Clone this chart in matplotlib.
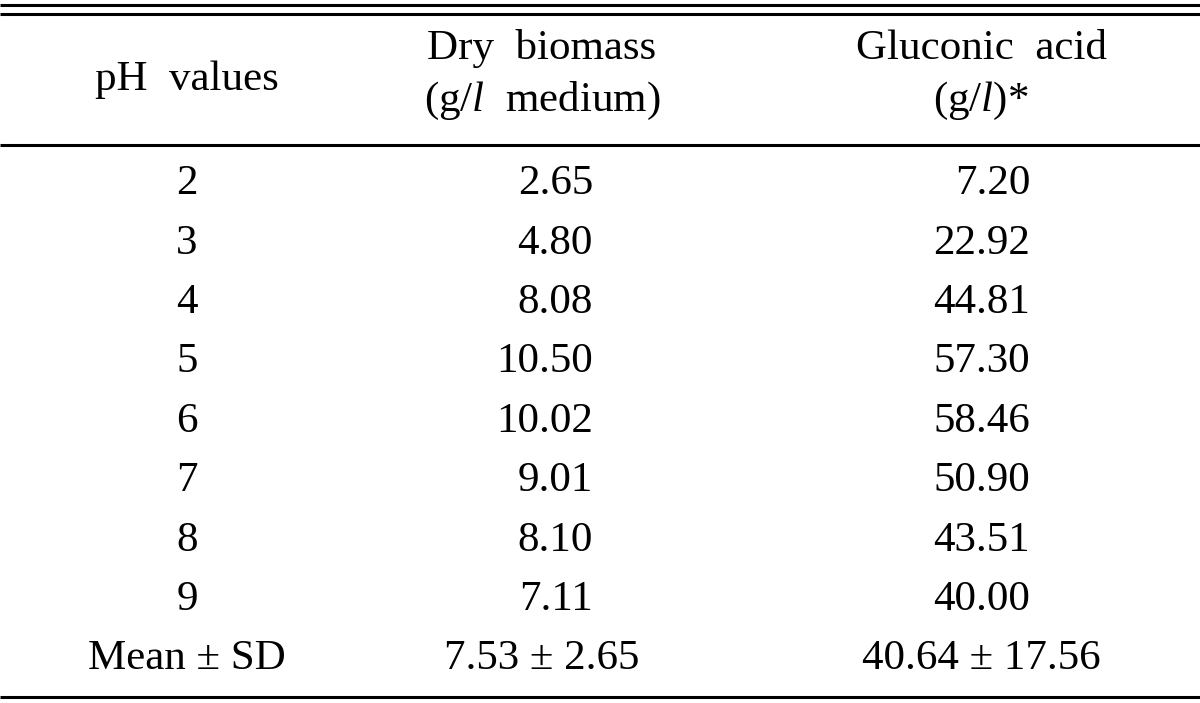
import matplotlib
matplotlib.use("Agg")
import matplotlib.pyplot as plt

plt.rcParams['font.family'] = ['Liberation Serif', 'DejaVu Serif']
plt.rcParams['mathtext.fontset'] = 'custom'
plt.rcParams['mathtext.rm'] = 'Liberation Serif'
plt.rcParams['mathtext.it'] = 'Liberation Serif:italic'

# ---- data ----
ph_values = [2, 3, 4, 5, 6, 7, 8, 9]
dry_biomass = [2.65, 4.80, 8.08, 10.50, 10.02, 9.01, 8.10, 7.11]
gluconic_acid = [7.20, 22.92, 44.81, 57.30, 58.46, 50.90, 43.51, 40.00]
mean_label = "Mean \u00b1 SD"
dry_mean_sd = (7.53, 2.65)
gluconic_mean_sd = (40.64, 17.56)
header_ph = "pH  values"
header_dry = ["Dry  biomass", r"(g/$\mathit{l}$  medium)"]
header_glu = ["Gluconic  acid", r"(g/$\mathit{l}$)*"]

W, H = 1200, 703
fig = plt.figure(figsize=(W / 100, H / 100), dpi=100)
ax = fig.add_axes([0, 0, 1, 1])
ax.set_xlim(0, W)
ax.set_ylim(H, 0)
ax.axis('off')

fs = 31
lw = 2.2
# rules
for y in (5, 13.5, 144.5, 697):
    ax.plot([0, W], [y, y], color='black', lw=lw, solid_capstyle='butt')

x_ph = 187
x_dry_c = 542
x_dry_r = 593
x_glu_c = 981
x_glu_r = 1030

# headers
ax.text(x_ph, 80, header_ph, ha='center', va='center', fontsize=fs)
ax.text(x_dry_c, 49, header_dry[0], ha='center', va='center', fontsize=fs)
ax.text(x_dry_c, 101, header_dry[1], ha='center', va='center', fontsize=fs)
ax.text(x_glu_c, 49, header_glu[0], ha='center', va='center', fontsize=fs)
ax.text(x_glu_c, 101, header_glu[1], ha='center', va='center', fontsize=fs)

y0 = 184
dy = 59.4
for i, (p, d, g) in enumerate(zip(ph_values, dry_biomass, gluconic_acid)):
    y = y0 + i * dy
    ax.text(x_ph, y, f"{p}", ha='center', va='center', fontsize=fs)
    ax.text(x_dry_r, y, f"{d:.2f}", ha='right', va='center', fontsize=fs)
    ax.text(x_glu_r, y, f"{g:.2f}", ha='right', va='center', fontsize=fs)

y = y0 + len(ph_values) * dy
ax.text(x_ph, y, mean_label, ha='center', va='center', fontsize=fs)
ax.text(x_dry_c, y, f"{dry_mean_sd[0]:.2f} \u00b1 {dry_mean_sd[1]:.2f}", ha='center', va='center', fontsize=fs)
ax.text(x_glu_c, y, f"{gluconic_mean_sd[0]:.2f} \u00b1 {gluconic_mean_sd[1]:.2f}", ha='center', va='center', fontsize=fs)

fig.savefig("out.png", dpi=100)
